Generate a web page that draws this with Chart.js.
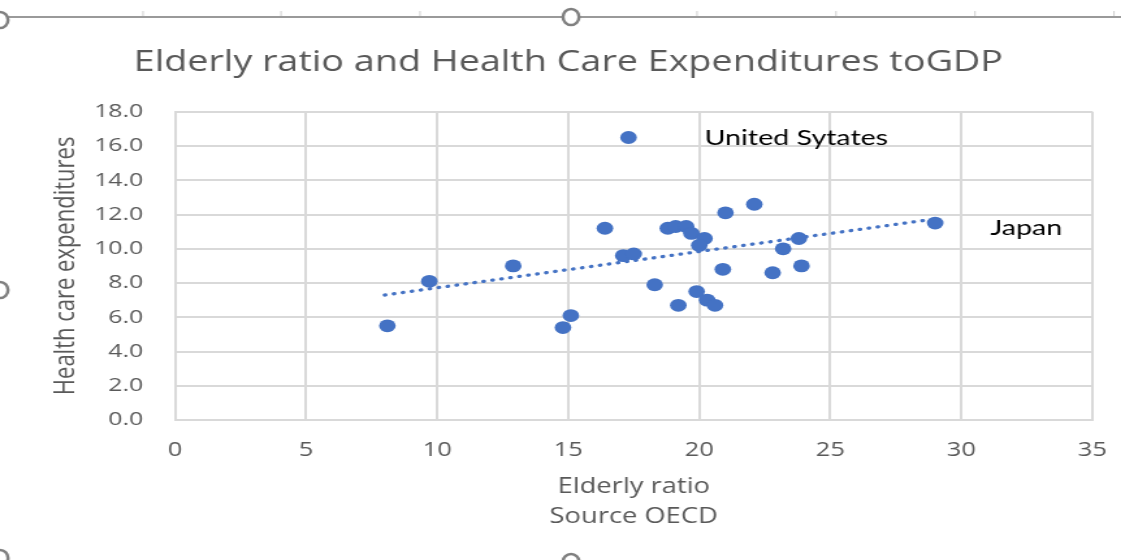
<!DOCTYPE html>
<html>
<head>
<meta charset="utf-8">
<title>Elderly ratio and Health Care Expenditures toGDP</title>
<script src="https://cdn.jsdelivr.net/npm/chart.js@4.4.1/dist/chart.umd.min.js"></script>
<style>
  html, body { margin: 0; padding: 0; background: #fff; overflow: hidden; }
  /* the original picture is a screenshot that was stretched sideways, so draw narrow and widen */
  #wrap { width: 862px; height: 560px; transform: scaleX(1.3005); transform-origin: 0 0; }
</style>
</head>
<body>
<div id="wrap"><canvas id="chart"></canvas></div>
<script>
// elderly ratio (x) vs health care expenditures to GDP (y)
const elderlyRatio = [17.3, 8.1, 9.7, 12.9, 14.8, 15.1, 16.4, 17.1, 17.5, 18.3, 18.8, 19.1, 19.5, 19.7,
  19.2, 19.9, 20.2, 20.0, 20.3, 20.6, 20.9, 21.0, 22.1, 22.8, 23.2, 23.8, 23.9, 29.0]
const healthExp = [16.5, 5.5, 8.1, 9.0, 5.4, 6.1, 11.2, 9.6, 9.7, 7.9, 11.2, 11.3, 11.3, 10.9,
  6.7, 7.5, 10.6, 10.2, 7.0, 6.7, 8.8, 12.1, 12.6, 8.6, 10.0, 10.6, 9.0, 11.5]

// linear trendline end points
const trendX = [8.0, 28.8]
const trendY = [7.3, 11.7]

const xTicks = [0, 5, 10, 15, 20, 25, 30, 35]
const yTicks = [0, 2, 4, 6, 8, 10, 12, 14, 16, 18]

const noteText = ["United Sytates", "Japan"]
const noteX = [20.2, 31.1]
const noteY = [16.5, 11.2]

const S = 1.3005 // sideways stretch of the original

const points = elderlyRatio.map((x, i) => ({ x: x, y: healthExp[i] }))
const trend = trendX.map((x, i) => ({ x: x, y: trendY[i] }))

const frame = {
  id: "frame",
  beforeDraw(chart) {
    const c = chart.ctx
    c.save()
    c.fillStyle = "#fff"
    c.fillRect(0, 0, chart.width, chart.height)
    c.restore()
  },
  afterDraw(chart) {
    const c = chart.ctx
    const xs = chart.scales.x
    const ys = chart.scales.y
    c.save()
    // notes next to the points
    c.fillStyle = "#000"
    c.font = "22px Lato"
    c.textBaseline = "middle"
    noteText.forEach((t, i) => {
      c.fillText(t, xs.getPixelForValue(noteX[i]), ys.getPixelForValue(noteY[i]))
    })
    // selection frame of the embedded chart
    c.strokeStyle = "#9a9a9a"
    c.lineWidth = 2
    c.beginPath()
    c.moveTo(8 / S, 17)
    c.lineTo(chart.width, 17)
    c.stroke()
    c.strokeStyle = "#d0d0d0"
    c.lineWidth = 1
    ;[143, 281, 420, 697, 836, 975, 1114].forEach(x => {
      c.beginPath()
      c.moveTo(x / S, 11)
      c.lineTo(x / S, 16)
      c.stroke()
    })
    c.strokeStyle = "#808080"
    c.lineWidth = 2.5
    c.fillStyle = "#fff"
    ;[[571, 17], [0, 20], [0, 290], [571, 562], [0, 558]].forEach(p => {
      c.beginPath()
      c.ellipse(p[0] / S, p[1], 8 / S, 8, 0, 0, Math.PI * 2)
      c.fill()
      c.stroke()
    })
    c.restore()
  }
}

new Chart(document.getElementById("chart"), {
  type: "scatter",
  data: {
    datasets: [
      {
        label: "Health care expenditures",
        data: points,
        backgroundColor: "#4472C4",
        borderColor: "#4472C4",
        borderWidth: 0,
        pointRadius: 6.4,
        order: 1,
      },
      {
        type: "line",
        label: "Linear trend",
        data: trend,
        borderColor: "#4472C4",
        borderWidth: 3.3,
        borderDash: [0.5, 6.5],
        borderCapStyle: "round",
        pointRadius: 0,
        fill: false,
        order: 2,
      },
    ],
  },
  options: {
    responsive: true,
    maintainAspectRatio: false,
    animation: false,
    layout: { autoPadding: false, padding: { top: 0, right: 22, bottom: 0, left: 34 } },
    plugins: {
      legend: { display: false },
      tooltip: { enabled: false },
      title: {
        display: true,
        text: "Elderly ratio and Health Care Expenditures toGDP",
        color: "#595959",
        font: { family: "'Open Sans'", size: 29, weight: "normal" },
        padding: { top: 45, bottom: 32 },
      },
    },
    scales: {
      x: {
        type: "linear",
        min: 0,
        max: 35,
        afterBuildTicks: s => { s.ticks = xTicks.map(v => ({ value: v })) },
        afterFit: s => {
          s.height = 140
          s.paddingLeft = 0
          s.paddingRight = 0
        },
        grid: { color: "#d9d9d9", lineWidth: 2, drawTicks: false },
        border: { color: "#d9d9d9", width: 2 },
        ticks: {
          color: "#595959",
          padding: 19,
          font: { family: "'Open Sans'", size: 19.5 },
        },
        title: {
          display: true,
          text: ["Elderly ratio", "Source OECD"],
          color: "#595959",
          font: { family: "'Open Sans'", size: 21, lineHeight: 1.43 },
          padding: { top: 0, bottom: 28 },
        },
      },
      y: {
        type: "linear",
        min: 0,
        max: 18,
        afterBuildTicks: s => { s.ticks = yTicks.map(v => ({ value: v })) },
        afterFit: s => {
          s.width = 100.6
          s.paddingTop = 0
          s.paddingBottom = 0
        },
        grid: { color: "#d9d9d9", lineWidth: 2, drawTicks: false },
        border: { color: "#d9d9d9", width: 2 },
        ticks: {
          color: "#595959",
          padding: 24.6,
          font: { family: "'Open Sans'", size: 19 },
          callback: v => v.toFixed(1),
        },
        title: {
          display: true,
          text: "Health care expenditures",
          color: "#595959",
          font: { family: "'Open Sans'", size: 22 },
          padding: { top: 3.6, bottom: 0 },
        },
      },
    },
  },
  plugins: [frame],
})
</script>
</body>
</html>
